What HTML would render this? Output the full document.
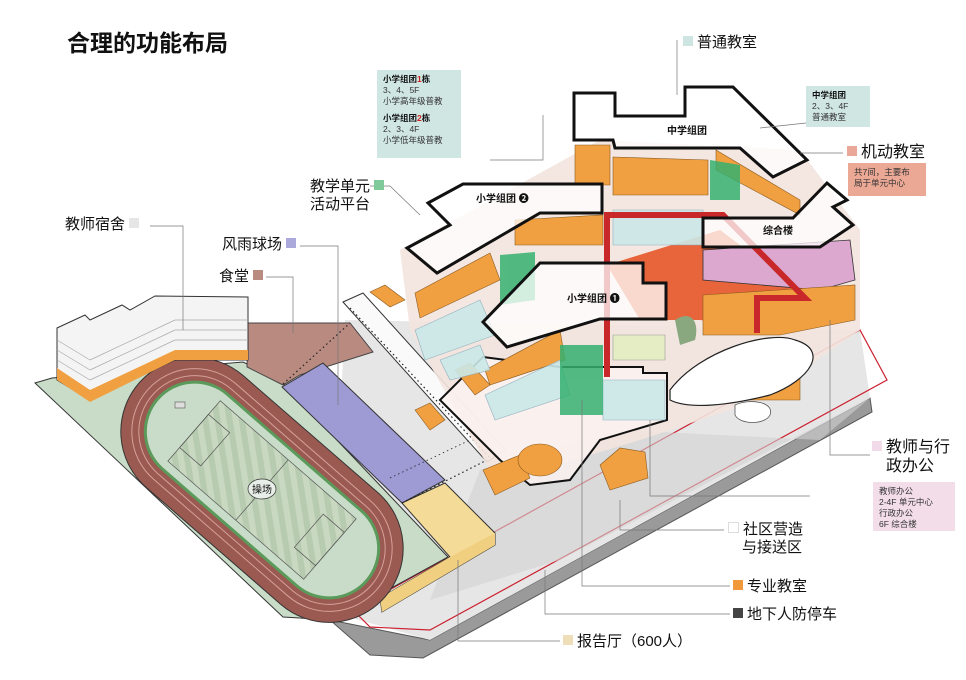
<!DOCTYPE html>
<html><head><meta charset="utf-8"><style>
html,body{margin:0;padding:0;background:#fff;}
body{width:966px;height:680px;overflow:hidden;position:relative;font-family:"Liberation Sans","Noto Sans CJK SC",sans-serif;}
svg{position:absolute;left:0;top:0;}
.t{position:absolute;color:#111;white-space:nowrap;line-height:1.2;}
.sq{display:inline-block;width:10px;height:10px;margin-right:4px;vertical-align:1px;}
.box{position:absolute;font-size:8.5px;line-height:11px;color:#333;padding:4px 6px;box-sizing:border-box;}
</style></head><body>
<svg width="966" height="680" viewBox="0 0 966 680">
<defs>
<pattern id="grass" width="12" height="12" patternUnits="userSpaceOnUse" patternTransform="rotate(40)">
<rect width="12" height="6" fill="#c9d8c0"/><rect y="6" width="12" height="6" fill="#b7cbb0"/></pattern>
</defs>
<!-- base platform -->
<polygon points="330,620 370,655 423,658 872,412 870,398 430,640" fill="#9a9a9a" stroke="#555" stroke-width="1"/>
<polygon points="330,612 345,320 860,330 870,398 430,640" fill="#e6e6e6"/>
<polygon points="353,610 370,627 430,630 887,380 860,330" fill="none" stroke="#cc2030" stroke-width="1.2"/>
<polygon points="480,470 620,430 820,440 870,398 560,560 430,600" fill="#d2d2d2" opacity="0.6"/>
<!-- green field -->
<polygon points="35,383 52,378 243,362 280,380 448,557 333,620 283,617" fill="#c8dcc8" stroke="#333" stroke-width="1"/>
<!-- brown canteen -->
<polygon points="248,323 350,323 373,352 300,375 283,385 247,367" fill="#b98a80" stroke="#444" stroke-width="1"/>
<!-- purple -->
<polygon points="282,387 323,363 445,480 402,503" fill="#9d9ad4" stroke="#333" stroke-width="1"/>
<!-- yellow auditorium -->
<polygon points="402,503 445,483 495,533 495,545 382,612 380,598 450,557" fill="#f4dc98" stroke="#333" stroke-width="1"/>
<polygon points="450,557 495,533 495,545 382,612 380,598" fill="#f0d080"/>
<!-- track -->
<g transform="translate(262,490) rotate(41)">
<rect x="-163" y="-74" width="326" height="148" rx="74" fill="#9a5a52" stroke="#333"/>
<rect x="-152" y="-63" width="304" height="126" rx="63" fill="none" stroke="#d7a09a" stroke-width="1"/>
<rect x="-145" y="-56" width="290" height="112" rx="56" fill="none" stroke="#d7a09a" stroke-width="1"/>
<rect x="-140" y="-51" width="280" height="102" rx="51" fill="#5a9a5a"/>
<rect x="-137" y="-48" width="274" height="96" rx="48" fill="#c9dcc9"/>
<rect x="-90" y="-40" width="180" height="80" fill="url(#grass)" stroke="#555" stroke-width="0.7"/>
<line x1="0" y1="-40" x2="0" y2="40" stroke="#555" stroke-width="0.7"/>
<rect x="-90" y="-22" width="28" height="44" fill="none" stroke="#555" stroke-width="0.7"/>
<rect x="62" y="-22" width="28" height="44" fill="none" stroke="#555" stroke-width="0.7"/>
</g>
<ellipse cx="262" cy="489" rx="14" ry="10" fill="#e8eee8" stroke="#333" stroke-width="0.7"/>
<text x="262" y="493" font-size="10" text-anchor="middle" font-family="Liberation Sans,Noto Sans CJK SC,sans-serif" fill="#111">操场</text>
<rect x="175" y="402" width="10" height="6" fill="#ddd" stroke="#555" stroke-width="0.6"/>
<!-- dorm -->
<polygon points="57,380 57,328 85,315 90,320 122,305 130,310 155,296 248,297 248,360 175,360 90,400" fill="#f4f4f4" stroke="#333" stroke-width="1"/>
<polygon points="57,368 90,390 175,350 248,350 248,360 175,360 90,402 57,380" fill="#f0a040"/>
<g stroke="#aaa" stroke-width="0.7">
<line x1="57" y1="340" x2="90" y2="360"/><line x1="57" y1="350" x2="90" y2="370"/><line x1="57" y1="360" x2="90" y2="380"/>
<line x1="90" y1="360" x2="175" y2="320"/><line x1="90" y1="370" x2="175" y2="330"/><line x1="90" y1="380" x2="175" y2="340"/>
<line x1="175" y1="320" x2="248" y2="320"/><line x1="175" y1="330" x2="248" y2="330"/><line x1="175" y1="340" x2="248" y2="340"/>
</g>
<!-- walkway -->
<polygon points="343,302 363,293 505,450 487,462" fill="#fafafa" stroke="#333" stroke-width="1"/>
<line x1="350" y1="308" x2="490" y2="458" stroke="#222" stroke-width="1.2" stroke-dasharray="1.5,3"/>
<line x1="283" y1="384" x2="350" y2="323" stroke="#222" stroke-width="1.2" stroke-dasharray="1.5,3"/>
<line x1="402" y1="503" x2="487" y2="460" stroke="#222" stroke-width="1.2" stroke-dasharray="1.5,3"/>
<line x1="390" y1="478" x2="470" y2="440" stroke="#222" stroke-width="0.8" stroke-dasharray="1.5,3"/>
<!-- central complex background -->
<polygon points="400,250 600,140 800,150 860,230 860,330 760,400 640,440 540,470 490,470 410,330" fill="#f3e4de" opacity="0.9"/>
<!-- lower floor outline -->
<path d="M483,357 L560,367 L643,367 L643,373 L667,373 L667,420 L600,440 L570,480 L530,485 L500,460 L440,400 Z" fill="#fbf3f0" fill-opacity="0.8" stroke="#111" stroke-width="2"/>
<!-- orange red center -->
<polygon points="607,265 720,230 800,290 780,330 700,320 640,320" fill="#e8643a"/>
<!-- pink admin -->
<polygon points="703,250 850,240 855,280 820,290 703,280" fill="#dca8d0" stroke="#333" stroke-width="0.8"/>
<!-- orange blocks -->
<g fill="#f0a040" stroke="#8a5a20" stroke-width="0.6">
<polygon points="613,157 708,160 708,195 613,195"/>
<polygon points="575,145 610,145 610,185 575,185"/>
<polygon points="716,150 800,200 800,215 716,170"/>
<polygon points="515,220 603,215 603,245 515,245"/>
<polygon points="415,293 490,253 500,280 420,318"/>
<polygon points="485,370 560,330 565,360 490,385"/>
<polygon points="703,295 855,285 855,320 780,335 703,335"/>
<polygon points="735,375 800,372 800,400 735,400"/>
<polygon points="370,292 385,285 405,300 390,307"/>
<polygon points="415,410 430,403 445,420 430,430"/>
<polygon points="455,370 470,363 490,385 475,395"/>
<polygon points="483,470 520,455 530,478 495,495"/>
<ellipse cx="540" cy="460" rx="22" ry="16"/>
<polygon points="600,465 620,448 645,452 648,478 610,490"/>
</g>
<!-- teal blocks -->
<g fill="#cbe9e8" stroke="#8ab" stroke-width="0.6" opacity="0.9">
<polygon points="613,210 703,210 703,245 613,245"/>
<polygon points="415,330 480,300 495,335 425,360"/>
<polygon points="485,395 560,360 570,395 495,420"/>
<polygon points="603,380 665,380 665,420 603,420"/>
<polygon points="440,360 480,345 490,370 450,380"/>
</g>
<g fill="#35b070" opacity="0.85">
<polygon points="710,160 740,165 740,200 710,200"/>
<polygon points="500,255 535,252 535,300 500,305"/>
<polygon points="560,345 603,345 603,415 560,415"/>
</g>
<polygon points="613,335 665,335 665,360 613,360" fill="#e4edc4" stroke="#999" stroke-width="0.6"/>
<!-- blob -->
<path d="M670,390 C700,350 770,330 795,340 C830,350 810,380 770,395 C730,405 690,410 670,400 Z" fill="#fff" stroke="#222" stroke-width="1.2"/>
<path d="M735,405 C750,398 775,402 770,415 C765,425 740,425 735,415 Z" fill="#fff" stroke="#555" stroke-width="0.8"/>
<path d="M675,320 C690,310 700,320 695,340 L680,345 Z" fill="#8aa880"/>
<!-- red path -->
<polyline points="607,377 607,215 723,215 805,298 757,298 757,333 C740,360 710,375 677,378 L607,377" fill="none" stroke="#c8282a" stroke-width="6" stroke-linejoin="miter"/>
<!-- outline shapes -->
<g fill="#fff" fill-opacity="0.75" stroke="#111" stroke-width="3" stroke-linejoin="miter">
<polygon points="574,93 615,93 615,116 685,116 685,87 733,87 807,160 773,177 740,148 615,148 613,140 574,140"/>
<polygon points="428,203 463,184 602,184 602,213 540,213 437,273 407,248 450,225"/>
<polygon points="483,322 540,263 600,263 600,263 643,263 643,283 666,283 666,319 600,319 507,347"/>
<polygon points="703,218 793,218 827,183 847,200 833,207 853,225 820,247 703,247"/>
</g>
<g font-family="Liberation Sans,Noto Sans CJK SC,sans-serif" font-size="10" font-weight="bold" fill="#111">
<text x="667" y="134">中学组团</text>
<text x="476" y="202">小学组团 ❷</text>
<text x="567" y="302">小学组团 ❶</text>
<text x="763" y="234">综合楼</text>
</g>
<!-- leader lines -->
<g stroke="#777" stroke-width="0.7" fill="none">
<polyline points="677,40 677,95"/>
<polyline points="543,115 543,160 490,160"/>
<polyline points="843,153 800,153"/>
<polyline points="370,186 390,186 420,215"/>
<polyline points="150,226 183,226 183,330"/>
<polyline points="300,246 338,246 338,405"/>
<polyline points="266,277 293,277 293,333"/>
<polyline points="870,455 830,455 830,320"/>
<polyline points="724,530 620,530 620,500"/>
<polyline points="730,586 582,586 582,400"/>
<polyline points="730,614 545,614 545,570"/>
<polyline points="560,641 458,641 458,560"/>
<polyline points="806,123 760,128"/>
<polyline points="810,496 650,496 650,420"/>
</g>
</svg>

<div class="t" style="left:67px;top:30px;font-size:23px;font-weight:bold;">合理的功能布局</div>
<div class="t" style="left:683px;top:34px;font-size:15px;"><span class="sq" style="background:#cfe5e2"></span>普通教室</div>
<div class="box" style="left:377px;top:70px;width:84px;height:88px;background:#d0e6e3;"><b style="color:#111">小学组团<span style="color:#d02020">1</span>栋</b><br>3、4、5F<br>小学高年级普教<br><div style="height:6px"></div><b style="color:#111">小学组团<span style="color:#d02020">2</span>栋</b><br>2、3、4F<br>小学低年级普教</div>
<div class="box" style="left:806px;top:86px;width:64px;height:41px;background:#d0e6e3;"><b style="color:#111">中学组团</b><br>2、3、4F<br>普通教室</div>
<div class="t" style="left:847px;top:143px;font-size:16px;"><span class="sq" style="background:#e9a898"></span>机动教室</div>
<div class="box" style="left:848px;top:163px;width:78px;height:33px;background:#eaa895;color:#333;">共7间，主要布<br>局于单元中心</div>
<div class="t" style="left:310px;top:178px;font-size:15px;">教学单元 <span class="sq" style="background:#7fc99a"></span><br>活动平台</div>
<div class="t" style="left:65px;top:216px;font-size:15px;">教师宿舍 <span class="sq" style="background:#e6e6e6"></span></div>
<div class="t" style="left:222px;top:236px;font-size:15px;">风雨球场 <span class="sq" style="background:#aba8dc"></span></div>
<div class="t" style="left:219px;top:268px;font-size:15px;">食堂 <span class="sq" style="background:#b88a80"></span></div>
<div class="t" style="left:872px;top:438px;font-size:16px;"><span class="sq" style="background:#f1dbe8"></span>教师与行<br><span style="margin-left:14px">政办公</span></div>
<div class="box" style="left:873px;top:482px;width:82px;height:49px;background:#f3dde9;">教师办公<br>2-4F 单元中心<br>行政办公<br>6F 综合楼</div>
<div class="t" style="left:728px;top:521px;font-size:15px;"><span class="sq" style="background:#fff;border:1px solid #ddd;width:9px;height:9px"></span>社区营造<br><span style="margin-left:14px">与接送区</span></div>
<div class="t" style="left:733px;top:578px;font-size:15px;"><span class="sq" style="background:#f0983a"></span>专业教室</div>
<div class="t" style="left:733px;top:606px;font-size:15px;"><span class="sq" style="background:#444"></span>地下人防停车</div>
<div class="t" style="left:563px;top:633px;font-size:15px;"><span class="sq" style="background:#eedfb8"></span>报告厅（600人）</div>
</body></html>
